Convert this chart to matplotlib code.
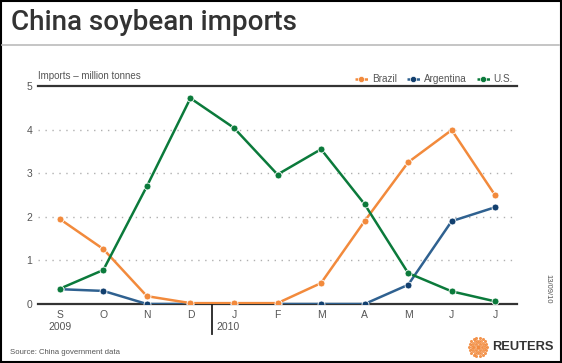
import numpy as np
import matplotlib.pyplot as plt
from matplotlib.lines import Line2D

# データ
months = ['S', 'O', 'N', 'D', 'J', 'F', 'M', 'A', 'M', 'J', 'J']
brazil = [1.95, 1.26, 0.18, 0.02, 0.02, 0.02, 0.48, 1.9, 3.25, 3.99, 2.49]
argentina = [0.34, 0.3, 0.0, 0.0, 0.0, 0.0, 0.0, 0.0, 0.44, 1.9, 2.22]
us = [0.35, 0.78, 2.7, 4.72, 4.04, 2.97, 3.55, 2.29, 0.71, 0.29, 0.06]
yticks = [0, 1, 2, 3, 4, 5]

orange = '#F28A3C'
blue = '#2F6190'
blue_mk = '#123F6E'
green = '#0B7A3B'
grey = '#555555'

plt.rcParams['font.family'] = ['Liberation Sans', 'DejaVu Sans']

fig = plt.figure(figsize=(5.62, 3.63), dpi=100)
fig.patch.set_facecolor('white')

ax = fig.add_axes([38 / 562, 1 - 304 / 363, 479 / 562, 218 / 363])
x = np.arange(len(months))

ax.plot(x, argentina, color=blue, lw=1.8, marker='o', ms=5, mfc=blue_mk, mec='white', mew=0.6, zorder=3)
ax.plot(x, brazil, color=orange, lw=1.8, marker='o', ms=5, mfc=orange, mec='white', mew=0.6, zorder=4)
ax.plot(x, us, color=green, lw=1.8, marker='o', ms=5, mfc=green, mec='white', mew=0.6, zorder=5)

ax.set_xlim(-0.5, 10.5)
ax.set_ylim(0, 5)
ax.set_yticks(yticks)
ax.set_xticks(x)
ax.set_xticklabels(months)
for s in ax.spines.values():
    s.set_visible(False)
ax.axhline(0, color='#333333', lw=1.6, zorder=2, clip_on=False)
ax.axhline(5, color='#333333', lw=1.6, zorder=2, clip_on=False)
for v in yticks[1:-1]:
    ax.axhline(v, color='#b0b0b0', lw=1, ls=(0, (1, 4)), zorder=1)
ax.tick_params(axis='both', length=0, labelsize=7.5, labelcolor=grey)
ax.tick_params(axis='x', pad=4.5)
ax.tick_params(axis='y', pad=4)

# 年の区切り
ax.plot([3.5, 3.5], [0, -0.68], color='#222222', lw=1.3, clip_on=False)
ax.text(0, -0.42, '2009', ha='center', va='top', fontsize=7.5, color=grey)
ax.text(3.6, -0.42, '2010', ha='left', va='top', fontsize=7.5, color=grey)

ax.text(-0.5, 5.12, 'Imports – million tonnes', ha='left', va='bottom', fontsize=7, color=grey)

# 凡例
handles = [Line2D([], [], color=c, lw=1.8, ls=(0, (2, 1)), marker='o', ms=4.5, mfc=m, mec='white', mew=0.5)
           for c, m in [(orange, orange), (blue, blue_mk), (green, green)]]
ax.legend(handles, ['Brazil', 'Argentina', 'U.S.'], ncol=3, frameon=False, fontsize=7.2,
          loc='lower right', bbox_to_anchor=(1.0, 0.99), handlelength=1.3, handletextpad=0.4,
          columnspacing=1.0, borderaxespad=0, labelcolor=grey)

# タイトルなど
fig.text(11 / 562, 1 - 23 / 363, 'China soybean imports', fontsize=20, fontweight='medium',
         color='#333333', va='center', ha='left', family=['Roboto', 'DejaVu Sans'])
fig.add_artist(Line2D([2 / 562, 559 / 562], [1 - 45 / 363] * 2, color='#bbbbbb', lw=1.2))
fig.text(10 / 562, 1 - 353 / 363, 'Source: China government data', fontsize=5.6, color=grey, va='center')
fig.text(548 / 562, 1 - 289 / 363, '13/09/10', fontsize=5.5, color=grey, rotation=270, va='center', ha='center')

# ロゴ
t = np.linspace(0, 2 * np.pi, 18, endpoint=False)
for r, s, a in [(9, 2.2, 0.9), (6.5, 2.2, 0.8), (4, 2, 0.7), (1.5, 1.6, 0.6)]:
    fig.add_artist(Line2D(list((478 + r * np.cos(t)) / 562), list(1 - (347 + r * np.sin(t)) / 363),
                          ls='none', marker='o', ms=s, color=orange, alpha=a, mew=0))
fig.text(492 / 562, 1 - 347 / 363, 'REUTERS', fontsize=9.3, fontweight='bold', color='#333333', va='center')

# 枠線
fig.add_artist(plt.Rectangle((0.002, 0.003), 0.996, 0.994, fill=False, ec='black', lw=1.5,
                             transform=fig.transFigure))

fig.savefig('out.png', dpi=100)
